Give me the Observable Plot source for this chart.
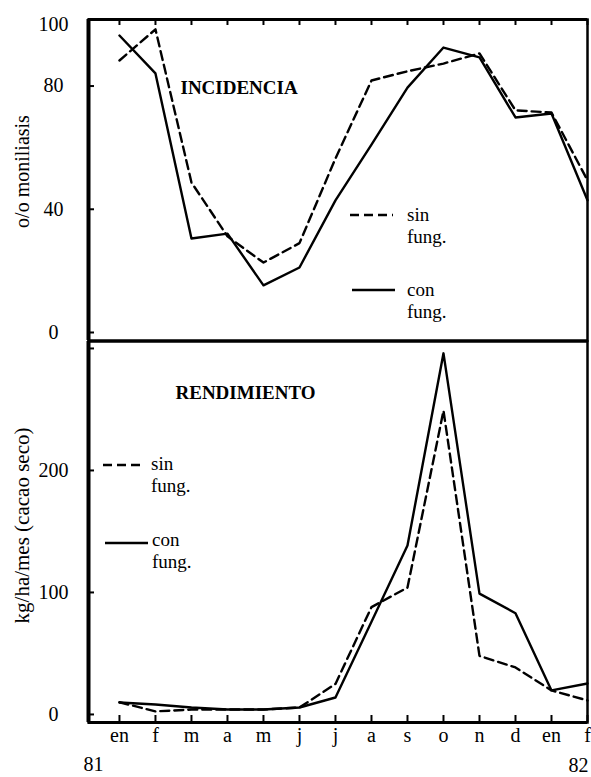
<!DOCTYPE html>
<html><head><meta charset="utf-8">
<script src="https://cdn.jsdelivr.net/npm/d3@7"></script>
<script src="https://cdn.jsdelivr.net/npm/@observablehq/plot@0.6"></script>
<style>
html,body{margin:0;padding:0;background:#fff;}
#chart{width:591px;height:777px;position:relative;background:#fff;}
#chart svg{display:block;}
</style></head><body><div id="chart"></div>
<script>
// ---- data ----
const months = ["en","f","m","a","m","j","j","a","s","o","n","d","en","f"];
const monthIndex = months.map((_, i) => i);
const yearLabels = ["81", "82"];

const incidenciaSin = [88.3, 98.4, 48.7, 31.2, 22.7, 29.0, 56.5, 81.8, 84.8, 87.3, 90.6, 72.1, 71.4, 49.4];
const incidenciaCon = [96.4, 84.1, 30.5, 32.1, 15.3, 21.1, 42.9, 61.0, 79.5, 92.5, 89.3, 69.8, 71.1, 42.9];

const rendimientoSin = [10, 2.5, 4, 4, 4, 5.7, 25, 88, 104, 249, 48, 38.5, 19.7, 11.5];
const rendimientoCon = [9.8, 8.2, 5.7, 4.1, 4.1, 5.7, 13.9, 76, 138.5, 296, 99, 83, 19.7, 25.4];

const incidenciaTickLabels = [0, 40, 80, 100];
const incidenciaTickMarks = [0, 40, 80];
const rendimientoTickLabels = [0, 100, 200];
const rendimientoTickMarks = [0, 100, 200, 300];

const titleTop = "INCIDENCIA";
const titleBottom = "RENDIMIENTO";
const yLabelTop = "o/o moniliasis";
const yLabelBottom = "kg/ha/mes (cacao seco)";
const legendSin = ["sin", "fung."];
const legendCon = ["con", "fung."];

// ---- layout ----
const FONT = "'Liberation Serif', 'DejaVu Serif', serif";
const W = 591, ML = 88, MR = 4;
const FW = W - ML - MR;
const xDomain = [-0.86, 13];
const DASH = "9,5";
const LW = 2.4;

const chart = document.getElementById("chart");

function addLegend(svg, items) {
  const g = d3.select(svg).append("g")
    .attr("font-family", FONT).attr("font-size", 19).attr("fill", "black")
    .attr("text-anchor", "start");
  for (const it of items) {
    g.append("line")
      .attr("x1", it.x1).attr("x2", it.x2).attr("y1", it.ly).attr("y2", it.ly)
      .attr("stroke", "black").attr("stroke-width", LW)
      .attr("stroke-dasharray", it.dash ? DASH : null);
    it.lines.forEach((t, k) => {
      g.append("text").attr("x", it.tx).attr("y", it.ty + k * it.gap)
        .attr("text-anchor", "start").text(t);
    });
  }
}

// ---- top panel: INCIDENCIA ----
const topH = 340, topMT = 19, topMB = 0;
const topPlot = Plot.plot({
  width: W, height: topH, marginTop: topMT, marginBottom: topMB, marginLeft: ML, marginRight: MR,
  style: {fontFamily: FONT, background: "white", color: "black", overflow: "visible"},
  x: {domain: xDomain, axis: null},
  y: {domain: [-2.6, 101.6], axis: null},
  marks: [
    Plot.frame({strokeWidth: 2.5}),
    Plot.ruleX([xDomain[0]], {strokeWidth: 4}),
    Plot.ruleY([101.6], {strokeWidth: 3}),
    Plot.axisY(incidenciaTickLabels, {tickSize: 0, tickPadding: 35, textAnchor: "middle", fontSize: 20}),
    Plot.tickY(incidenciaTickMarks, {y: d => d, insetRight: FW - 6, strokeWidth: 2}),
    Plot.tickX(monthIndex, {x: d => d, insetBottom: (topH - topMT - topMB) - 6, strokeWidth: 2}),
    Plot.lineY(incidenciaSin, {stroke: "black", strokeWidth: LW, strokeDasharray: DASH}),
    Plot.lineY(incidenciaCon, {stroke: "black", strokeWidth: LW}),
    Plot.text([titleTop], {frameAnchor: "top-left", dx: 92, dy: 61, textAnchor: "start", fontWeight: "bold", fontSize: 19}),
    Plot.text([yLabelTop], {frameAnchor: "left", rotate: -90, dx: -66, dy: -8.5, textAnchor: "middle", fontSize: 20})
  ]
});
d3.select(topPlot).attr("font-family", FONT);
addLegend(topPlot, [
  {x1: 350, x2: 393, ly: 215, dash: true, tx: 407, ty: 221, gap: 22, lines: legendSin},
  {x1: 352, x2: 395, ly: 290, dash: false, tx: 407, ty: 296, gap: 22, lines: legendCon}
]);
chart.appendChild(topPlot);

// ---- bottom panel: RENDIMIENTO ----
const botH = 437, botMT = 1, botMB = 55;
const botPlot = Plot.plot({
  width: W, height: botH, marginTop: botMT, marginBottom: botMB, marginLeft: ML, marginRight: MR,
  style: {fontFamily: FONT, background: "white", color: "black", overflow: "visible"},
  x: {domain: xDomain, axis: null},
  y: {domain: [-6.6, 305.7], axis: null},
  marks: [
    Plot.frame({strokeWidth: 2.5}),
    Plot.ruleX([xDomain[0]], {strokeWidth: 4}),
    Plot.ruleY([-6.6], {strokeWidth: 3}),
    Plot.axisY(rendimientoTickLabels, {tickSize: 0, tickPadding: 35, textAnchor: "middle", fontSize: 20}),
    Plot.tickY(rendimientoTickMarks, {y: d => d, insetRight: FW - 6, strokeWidth: 2}),
    Plot.tickX(monthIndex, {x: d => d, insetTop: (botH - botMT - botMB) - 7, strokeWidth: 2}),
    Plot.axisX(monthIndex, {tickSize: 0, tickPadding: 5, tickFormat: i => months[i], fontSize: 20}),
    Plot.lineY(rendimientoSin, {stroke: "black", strokeWidth: LW, strokeDasharray: DASH}),
    Plot.lineY(rendimientoCon, {stroke: "black", strokeWidth: LW}),
    Plot.text([titleBottom], {frameAnchor: "top-left", dx: 87, dy: 44, textAnchor: "start", fontWeight: "bold", fontSize: 19}),
    Plot.text([yLabelBottom], {frameAnchor: "left", rotate: -90, dx: -66, dy: -6.5, textAnchor: "middle", fontSize: 21}),
    Plot.text([yearLabels[0]], {frameAnchor: "bottom-left", dx: 5, dy: 48, textAnchor: "middle", fontSize: 20}),
    Plot.text([yearLabels[1]], {frameAnchor: "bottom-right", dx: -9, dy: 49, textAnchor: "middle", fontSize: 20})
  ]
});
d3.select(botPlot).attr("font-family", FONT);
addLegend(botPlot, [
  {x1: 103, x2: 145, ly: 125, dash: true, tx: 151, ty: 130, gap: 22, lines: legendSin},
  {x1: 105, x2: 148, ly: 203, dash: false, tx: 152, ty: 206, gap: 22, lines: legendCon}
]);
chart.appendChild(botPlot);
</script>
</body></html>
